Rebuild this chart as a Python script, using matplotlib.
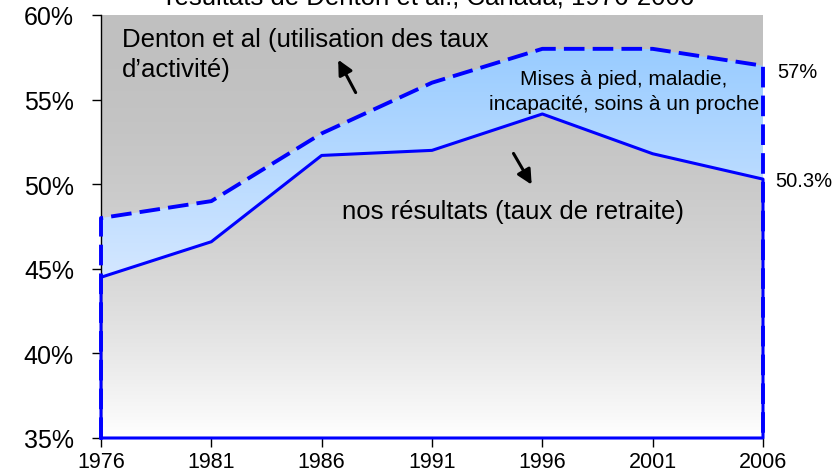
import numpy as np
import matplotlib
matplotlib.use("Agg")
import matplotlib.pyplot as plt
from matplotlib.path import Path
from matplotlib.patches import PathPatch
from matplotlib.colors import LinearSegmentedColormap

plt.rcParams['font.family'] = ['Liberation Sans', 'DejaVu Sans']

# ---- data ----
years = [1976, 1981, 1986, 1991, 1996, 2001, 2006]
nos_resultats = [44.5, 46.6, 51.7, 52.0, 54.15, 51.8, 50.3]
denton = [48.0, 49.0, 53.0, 56.0, 58.0, 58.0, 57.0]
yticks = [35, 40, 45, 50, 55, 60]
title = "résultats de Denton et al., Canada, 1976-2006"

W, H = 837, 477
fig = plt.figure(figsize=(W / 100, H / 100), dpi=100)
ax = fig.add_axes([101 / W, 1 - 439 / H, (763 - 101) / W, (439 - 16) / H])
x0, x1 = years[0], years[-1]
y0, y1 = 35, 60
ax.set_xlim(x0, x1)
ax.set_ylim(y0, y1)

# gray gradient background
t = np.linspace(0, 1, 256).reshape(-1, 1)  # 0 at top
g = (192 + 63 * t ** 2) / 255.0
bg = np.dstack([g, g, g])
ax.imshow(bg, extent=[x0, x1, y0, y1], origin='upper', aspect='auto', zorder=0)

# blue gradient fill between the two series
cmap = LinearSegmentedColormap.from_list('bl', ['#d6e8ff', '#99ccff'])
grad = np.linspace(0, 1, 256).reshape(-1, 1)
im = ax.imshow(grad, extent=[x0, x1, 44.0, 58.0], origin='lower', aspect='auto',
               cmap=cmap, zorder=1)
verts = [(x, v) for x, v in zip(years, denton)] + \
        [(x, v) for x, v in zip(years[::-1], nos_resultats[::-1])]
poly = Path(verts + [verts[0]], closed=True)
patch = PathPatch(poly, transform=ax.transData, facecolor='none', edgecolor='none')
ax.add_patch(patch)
im.set_clip_path(patch)

blue = '#0000ff'
# dashed outline (Denton)
dx = [x0] + years + [x1]
dy = [y0] + denton + [y0]
ax.plot(dx, dy, color=blue, lw=2.8, ls=(0, (5.3, 2.1)), clip_on=False, zorder=3)
# solid outline (nos résultats)
sx = [x0] + years + [x1, x0]
sy = [y0] + nos_resultats + [y0, y0]
ax.plot(sx, sy, color=blue, lw=2.2, clip_on=False, zorder=4)

# axes styling
for s in ['top', 'right', 'bottom']:
    ax.spines[s].set_visible(False)
ax.spines['left'].set_color('black')
ax.spines['left'].set_linewidth(1.0)
ax.set_xticks(years)
ax.set_xticklabels([str(y) for y in years])
ax.set_yticks(yticks)
ax.set_yticklabels([f"{v}%" for v in yticks])
ax.tick_params(axis='both', direction='out', length=6.5, width=1, colors='black')
ax.tick_params(axis='x', pad=2.5, labelsize=15.5)
ax.tick_params(axis='y', pad=13, labelsize=18)

# title (cut at top)
fig.text(430 / W, 1 - 4 / H, title, ha='center', va='baseline', fontsize=18.5)

# annotations
ax.text(1976.95, 58.19, "Denton et al (utilisation des taux",
        ha='left', va='baseline', fontsize=18.5, zorder=5)
ax.text(1976.95, 56.41, "d\u2019activité)",
        ha='left', va='baseline', fontsize=18.5, zorder=5)
ax.annotate('', xy=(1986.69, 57.5), xytext=(1987.6, 55.27),
            arrowprops=dict(arrowstyle='-|>', color='black', lw=2.2,
                            mutation_scale=22), zorder=5)
ax.text(1986.92, 47.98, "nos résultats (taux de retraite)", ha='left',
        va='baseline', fontsize=18.5, zorder=5)
ax.annotate('', xy=(1995.58, 49.83), xytext=(1994.63, 51.96),
            arrowprops=dict(arrowstyle='-|>', color='black', lw=2.2,
                            mutation_scale=22), zorder=5)
ax.text(1999.70, 55.92, "Mises à pied, maladie,",
        ha='center', va='baseline', fontsize=15, zorder=5)
ax.text(1999.70, 54.44, "incapacité, soins à un proche",
        ha='center', va='baseline', fontsize=15, zorder=5)
ax.text(2006.63, 56.32, "57%", ha='left', va='baseline', fontsize=14.5,
        clip_on=False)
ax.text(2006.54, 49.91, "50.3%", ha='left', va='baseline', fontsize=14.5,
        clip_on=False)

fig.savefig('out.png', dpi=100)
